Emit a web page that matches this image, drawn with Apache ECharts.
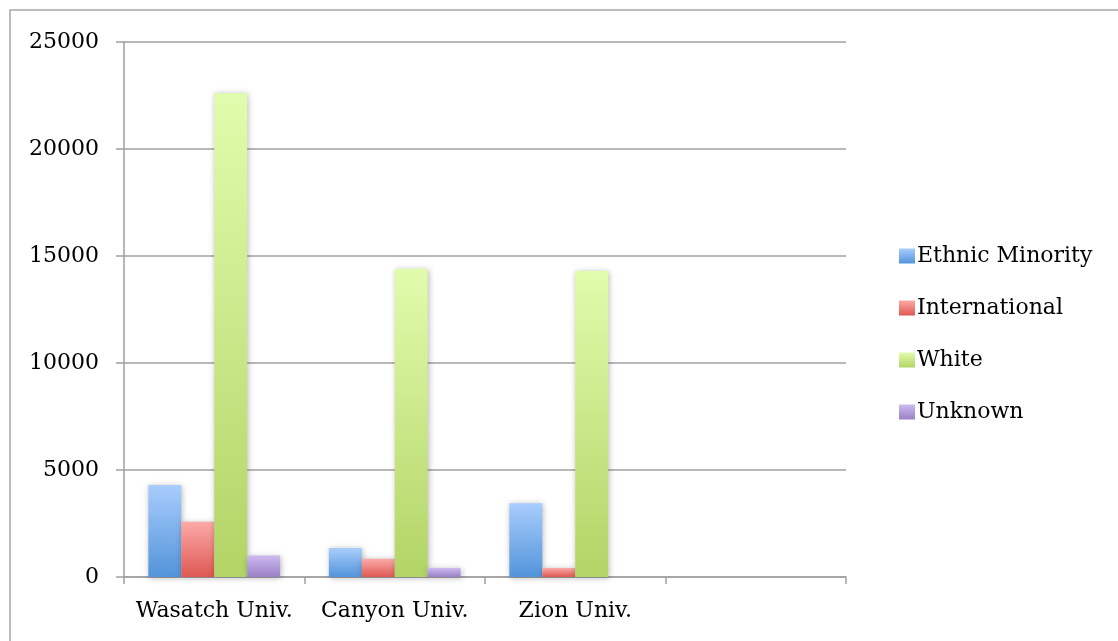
<!DOCTYPE html>
<html>
<head>
<meta charset="utf-8">
<style>
  html, body { margin: 0; padding: 0; background: #ffffff; }
  #chart { width: 1118px; height: 641px; }
</style>
<script src="https://cdn.jsdelivr.net/npm/echarts@6/dist/echarts.min.js"></script>
</head>
<body>
<div id="chart"></div>
<script>
// Enrollment by group for each university
const categories = ['Wasatch Univ.', 'Canyon Univ.', 'Zion Univ.', ''];
const ethnicMinority = [4300, 1350, 3450, null];
const international = [2580, 850, 420, null];
const white = [22600, 14400, 14300, null];
const unknown = [1000, 420, 0, null];
const yTicks = [0, 5000, 10000, 15000, 20000, 25000];

const FONT = 'DejaVu Serif';

function grad(top, bottom) {
  return new echarts.graphic.LinearGradient(0, 0, 0, 1, [
    { offset: 0, color: top },
    { offset: 1, color: bottom }
  ]);
}

function barSeries(name, data, top, bottom) {
  return {
    name: name,
    type: 'bar',
    data: data,
    barGap: '0%',
    barCategoryGap: '27%',
    itemStyle: {
      color: grad(top, bottom),
      shadowBlur: 6,
      shadowOffsetX: 1,
      shadowOffsetY: 1,
      shadowColor: 'rgba(0,0,0,0.28)'
    },
    emphasis: { disabled: true }
  };
}

const chart = echarts.init(document.getElementById('chart'), null, { renderer: 'canvas' });

chart.setOption({
  animation: false,
  backgroundColor: '#ffffff',
  textStyle: { fontFamily: FONT },
  graphic: [{
    type: 'rect',
    left: 7.5, top: 7.5,
    shape: { x: 0, y: 0, width: 1200, height: 700 },
    style: { fill: 'none', stroke: '#a6a6a6', lineWidth: 1.5 },
    silent: true
  }],
  grid: { left: 124, right: 272, top: 42, bottom: 64, containLabel: false },
  legend: {
    orient: 'vertical',
    left: 894,
    top: 240,
    itemWidth: 16,
    itemHeight: 15,
    itemGap: 30,
    icon: 'rect',
    textStyle: { fontFamily: FONT, fontSize: 22, color: '#000', lineHeight: 22, padding: [0, 0, 0, -3] },
    data: ['Ethnic Minority', 'International', 'White', 'Unknown']
  },
  xAxis: {
    type: 'category',
    data: categories,
    axisLine: { show: true, lineStyle: { color: '#a0a0a0', width: 1.5 } },
    axisTick: { show: true, interval: 0, length: 7, lineStyle: { color: '#a0a0a0', width: 1.5 } },
    axisLabel: { interval: 0, fontFamily: FONT, fontSize: 22, color: '#000', margin: 23 },
    splitLine: { show: false }
  },
  yAxis: {
    type: 'value',
    min: yTicks[0],
    max: yTicks[yTicks.length - 1],
    interval: yTicks[1] - yTicks[0],
    axisLine: { show: true, lineStyle: { color: '#a0a0a0', width: 1.5 } },
    axisTick: { show: true, length: 8, lineStyle: { color: '#a0a0a0', width: 1.5 } },
    axisLabel: {
      fontFamily: FONT, fontSize: 22, color: '#000', margin: 25,
      formatter: function (v) { return String(v); }
    },
    splitLine: { show: true, lineStyle: { color: '#a0a0a0', width: 1.5 } }
  },
  series: [
    barSeries('Ethnic Minority', ethnicMinority, '#a9cdfd', '#5294da'),
    barSeries('International', international, '#fcaaa8', '#de5852'),
    barSeries('White', white, '#e1fcac', '#b3d466'),
    barSeries('Unknown', unknown, '#cebaf0', '#9a80c6')
  ]
});
</script>
</body>
</html>
